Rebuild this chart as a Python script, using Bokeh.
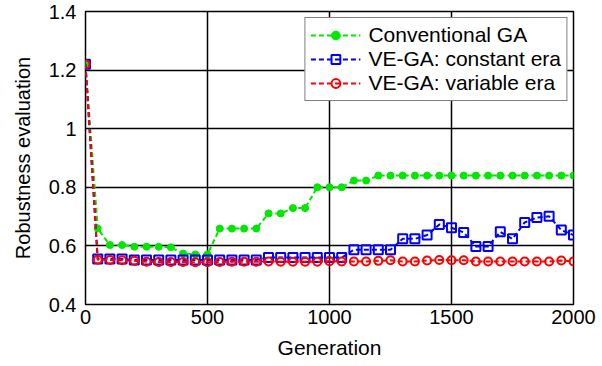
from bokeh.plotting import figure
from bokeh.models import Range1d, FixedTicker, Legend, LegendItem
from bokeh.embed import file_html
from bokeh.resources import INLINE

# Generation numbers at which the best robustness was recorded
generations = list(range(0, 2001, 50))

conventional_ga = [
    1.22, 0.659, 0.603, 0.603, 0.597, 0.597, 0.597, 0.595, 0.574, 0.571, 0.571,
    0.659, 0.659, 0.659, 0.659, 0.711, 0.711, 0.729, 0.729, 0.800, 0.800,
    0.800, 0.823, 0.823, 0.840, 0.840, 0.840, 0.840, 0.840, 0.840, 0.840,
    0.840, 0.840, 0.840, 0.840, 0.840, 0.840, 0.840, 0.840, 0.840, 0.840,
]

constant_era = [
    1.22, 0.555, 0.555, 0.555, 0.552, 0.552, 0.552, 0.552, 0.552, 0.552, 0.552,
    0.552, 0.552, 0.552, 0.552, 0.560, 0.560, 0.560, 0.560, 0.560, 0.560,
    0.560, 0.587, 0.587, 0.587, 0.587, 0.624, 0.624, 0.637, 0.673, 0.662,
    0.646, 0.598, 0.598, 0.648, 0.624, 0.680, 0.697, 0.701, 0.654, 0.637,
]

variable_era = [
    1.22, 0.553, 0.552, 0.551, 0.549, 0.546, 0.545, 0.545, 0.545, 0.544, 0.544,
    0.545, 0.546, 0.546, 0.546, 0.547, 0.546, 0.546, 0.546, 0.546, 0.548,
    0.547, 0.547, 0.547, 0.549, 0.551, 0.547, 0.547, 0.550, 0.552, 0.551,
    0.551, 0.547, 0.547, 0.547, 0.547, 0.547, 0.547, 0.547, 0.550, 0.547,
]

series_labels = ["Conventional GA", "VE-GA: constant era", "VE-GA: variable era"]
x_ticks = [0, 500, 1000, 1500, 2000]
y_ticks = [0.4, 0.6, 0.8, 1.0, 1.2, 1.4]
y_tick_labels = ["0.4", "0.6", "0.8", "1", "1.2", "1.4"]

FONT = "Liberation Sans"
GREEN, BLUE, RED = "#00e800", "#0000ff", "#ff0000"

p = figure(
    width=602, height=366,
    x_range=Range1d(0, 2000), y_range=Range1d(0.4, 1.4),
    output_backend="svg", toolbar_location=None,
    min_border_left=85, min_border_right=29, min_border_top=11, min_border_bottom=62,
    x_axis_label="Generation", y_axis_label="Robustness evaluation",
)
p.background_fill_color = "white"
p.border_fill_color = "white"
p.outline_line_color = "black"
p.outline_line_width = 1.5

p.xaxis.ticker = FixedTicker(ticks=x_ticks)
p.yaxis.ticker = FixedTicker(ticks=y_ticks)
p.yaxis.major_label_overrides = dict(zip(y_ticks, y_tick_labels))

for ax in (p.xaxis, p.yaxis):
    ax.axis_line_color = None
    ax.major_tick_in = 6
    ax.major_tick_out = 0
    ax.minor_tick_line_color = None
    ax.major_tick_line_color = "black"
    ax.major_label_text_font = FONT
    ax.major_label_text_font_size = "20px"
    ax.major_label_text_color = "black"
    ax.axis_label_text_font = FONT
    ax.axis_label_text_font_style = "normal"
    ax.axis_label_text_color = "black"

p.xaxis.axis_label_text_font_size = "21px"
p.yaxis.axis_label_text_font_size = "20px"
p.xaxis.major_label_standoff = 5
p.xaxis.axis_label_standoff = 9
p.yaxis.major_label_standoff = 9
p.yaxis.axis_label_standoff = 12

for g in (p.xgrid, p.ygrid):
    g.grid_line_color = "black"
    g.grid_line_width = 1.5
    g.grid_line_alpha = 1.0

DASH = "5 3"

g_line = p.line(generations, conventional_ga, line_color=GREEN, line_width=2, line_dash=DASH)
g_mark = p.scatter(generations, conventional_ga, marker="circle", size=7,
                   fill_color=GREEN, line_color=GREEN, line_width=1)

b_line = p.line(generations, constant_era, line_color=BLUE, line_width=2, line_dash=DASH)
b_mark = p.scatter(generations, constant_era, marker="square", size=9,
                   fill_color=None, line_color=BLUE, line_width=2)

r_line = p.line(generations, variable_era, line_color=RED, line_width=2, line_dash=DASH)
r_mark = p.scatter(generations, variable_era, marker="circle", size=8,
                   fill_color=None, line_color=RED, line_width=2)

legend = Legend(
    items=[
        LegendItem(label=series_labels[0], renderers=[g_line, g_mark]),
        LegendItem(label=series_labels[1], renderers=[b_line, b_mark]),
        LegendItem(label=series_labels[2], renderers=[r_line, r_mark]),
    ],
    location="top_right",
)
p.add_layout(legend, "center")
legend.margin = 6
legend.padding = 5
legend.spacing = 0
legend.glyph_width = 50
legend.glyph_height = 22
legend.label_height = 22
legend.label_standoff = 8
legend.label_text_font = FONT
legend.label_text_font_size = "21px"
legend.label_text_color = "black"
legend.border_line_color = "black"
legend.border_line_width = 1.5
legend.background_fill_color = "white"
legend.background_fill_alpha = 1.0

open("out.html", "w").write(file_html(p, INLINE))
